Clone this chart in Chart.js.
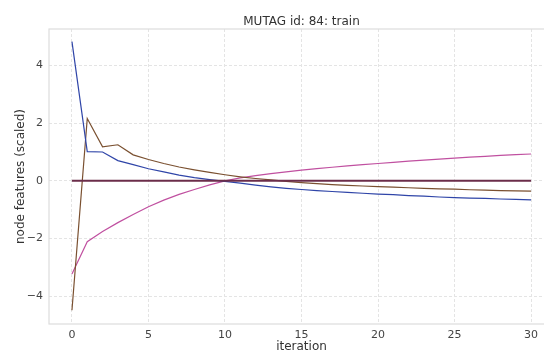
<!DOCTYPE html>
<html>
<head>
<meta charset="utf-8">
<script src="https://cdn.jsdelivr.net/npm/chart.js@4/dist/chart.umd.min.js"></script>
<style>
html,body{margin:0;padding:0;background:#fff;overflow:hidden;width:544px;height:352px;}
canvas{display:block;}
</style>
</head>
<body>
<canvas id="c" width="554" height="352"></canvas>
<script>
const chartTitle = 'MUTAG id: 84: train';
const iterations = [0,1,2,3,4,5,6,7,8,9,10,11,12,13,14,15,16,17,18,19,20,21,22,23,24,25,26,27,28,29,30];
const featureBlue = [4.83,1.01,1.00,0.70,0.56,0.42,0.31,0.20,0.11,0.04,-0.02,-0.08,-0.15,-0.21,-0.26,-0.30,-0.34,-0.37,-0.40,-0.43,-0.46,-0.48,-0.51,-0.53,-0.56,-0.58,-0.60,-0.61,-0.63,-0.64,-0.66];
const featureBrown = [-4.49,2.16,1.18,1.25,0.90,0.74,0.60,0.48,0.38,0.29,0.21,0.14,0.08,0.03,-0.02,-0.06,-0.10,-0.13,-0.16,-0.18,-0.20,-0.22,-0.24,-0.26,-0.28,-0.29,-0.31,-0.32,-0.34,-0.35,-0.36];
const featureMagenta = [-3.23,-2.11,-1.76,-1.45,-1.17,-0.90,-0.67,-0.47,-0.30,-0.14,0.00,0.10,0.18,0.25,0.31,0.37,0.42,0.47,0.52,0.56,0.60,0.64,0.68,0.72,0.75,0.79,0.82,0.85,0.88,0.91,0.93];
const featureZero = [0,0,0,0,0,0,0,0,0,0,0,0,0,0,0,0,0,0,0,0,0,0,0,0,0,0,0,0,0,0,0];
const xTicks = [0,5,10,15,20,25,30];
const yTicks = [-4,-2,0,2,4];

function pts(arr){ return iterations.map((x,i)=>({x:x,y:arr[i]})); }

const font = "'DejaVu Sans', sans-serif";

const framePlugin = {
  id:'frame',
  beforeDatasetsDraw(chart){
    const a = chart.chartArea, ctx = chart.ctx;
    ctx.save();
    ctx.strokeStyle = '#dddddd';
    ctx.lineWidth = 1.2;
    ctx.setLineDash([]);
    ctx.strokeRect(a.left, a.top, a.right - a.left, a.bottom - a.top);
    ctx.restore();
  },
  afterDraw(chart){
    const ctx = chart.ctx, xs = chart.scales.x;
    const cx = (xs.getPixelForValue(xs.min) + xs.getPixelForValue(xs.max)) / 2;
    ctx.save();
    ctx.fillStyle = '#333';
    ctx.font = "12px " + font;
    ctx.textAlign = 'center';
    ctx.textBaseline = 'middle';
    ctx.fillText(chartTitle, cx, 22);
    ctx.restore();
  }
};

new Chart(document.getElementById('c'), {
  type:'line',
  data:{
    datasets:[
      {data:pts(featureZero), borderColor:'#6b2d4a', borderWidth:2},
      {data:pts(featureBlue), borderColor:'#2f45a8', borderWidth:1.2},
      {data:pts(featureBrown), borderColor:'#7a5030', borderWidth:1.2},
      {data:pts(featureMagenta), borderColor:'#c050a0', borderWidth:1.2}
    ]
  },
  options:{
    responsive:false,
    devicePixelRatio:1,
    animation:false,
    elements:{point:{radius:0}, line:{tension:0}},
    layout:{padding:{left:0,right:0,top:29,bottom:0}},
    plugins:{
      legend:{display:false},
      tooltip:{enabled:false},
      title:{display:false}
    },
    scales:{
      x:{
        type:'linear', min:-1.5, max:31.5,
        afterBuildTicks(s){ s.ticks = xTicks.map(v=>({value:v})); },
        afterFit(s){ s.height = 28; },
        grid:{color:'#e4e4e4', lineWidth:1, drawTicks:false},
        border:{display:false, dash:[3,2]},
        ticks:{padding:5, color:'#444', font:{family:font,size:11}, maxRotation:0},
        title:{display:true, text:'iteration', color:'#333', font:{family:font,size:12}, padding:{top:0,bottom:-2}}
      },
      y:{
        type:'linear', min:-4.965, max:5.265,
        afterBuildTicks(s){ s.ticks = yTicks.map(v=>({value:v})); },
        afterFit(s){ s.width = 49; },
        grid:{color:'#e4e4e4', lineWidth:1, drawTicks:false},
        border:{display:false, dash:[3,2]},
        ticks:{padding:6, color:'#444', font:{family:font,size:11}, callback:(v)=> v<0 ? '\u2212'+Math.abs(v) : String(v)},
        title:{display:true, text:'node features (scaled)', color:'#333', font:{family:font,size:12}, padding:{top:14,bottom:0}}
      }
    }
  },
  plugins:[framePlugin]
});
</script>
</body>
</html>
